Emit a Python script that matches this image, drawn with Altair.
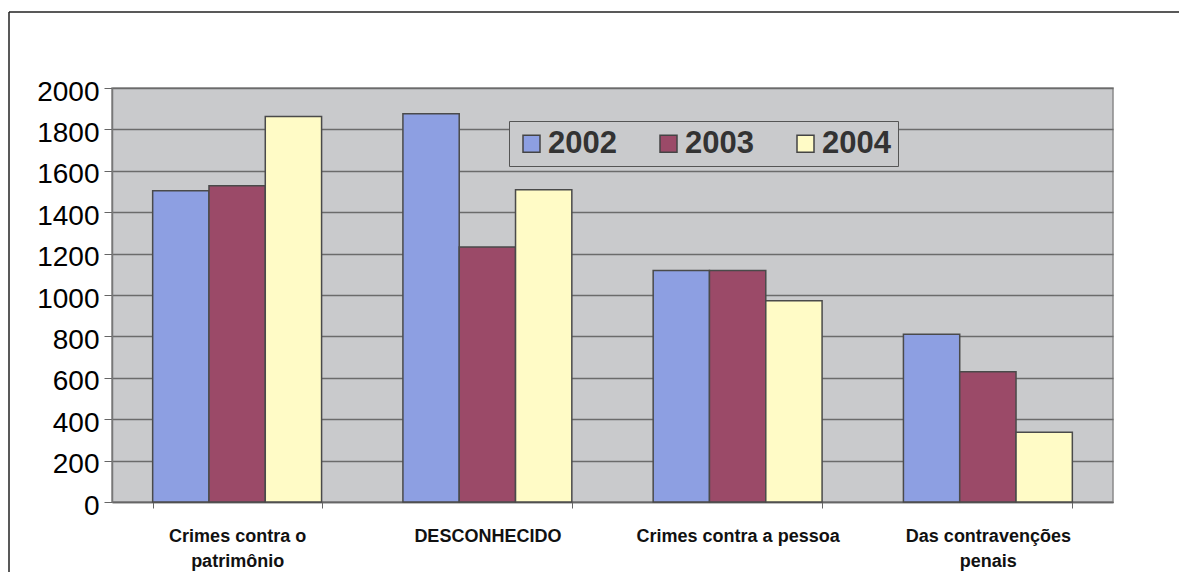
import altair as alt
import pandas as pd

categories = ["Crimes contra o|patrimônio", "DESCONHECIDO", "Crimes contra a pessoa", "Das contravenções|penais"]
years = ["2002", "2003", "2004"]
v2002 = [1504, 1876, 1118, 810]
v2003 = [1528, 1232, 1118, 629]
v2004 = [1862, 1508, 972, 337]
colors = ["#8d9fe2", "#9b4a68", "#fffbc6"]
y_ticks = [0, 200, 400, 600, 800, 1000, 1200, 1400, 1600, 1800, 2000]

rows = []
for yr, vals in zip(years, [v2002, v2003, v2004]):
    for c, v in zip(categories, vals):
        rows.append({"category": c, "year": yr, "value": v})
df = pd.DataFrame(rows)

W, H = 1001, 414
PL, PT = 104, 80

bars = alt.Chart(df).mark_bar(stroke="#4a4a4a", strokeWidth=1.5).encode(
    x=alt.X(
        "category:N",
        sort=categories,
        title=None,
        scale=alt.Scale(paddingInner=0.325, paddingOuter=0.1625),
        axis=alt.Axis(
            labelAngle=0,
            labelExpr="split(datum.label, '|')",
            labelFont="Liberation Sans",
            labelFontWeight="bold",
            labelFontSize=18,
            labelColor="#111",
            labelLineHeight=25,
            labelPadding=19,
            labelLimit=0,
            tickBand="extent",
            tickSize=6,
            tickColor="#666",
            domainColor="#666",
            domainWidth=1.5,
            grid=False,
        ),
    ),
    xOffset=alt.XOffset("year:N", sort=years, scale=alt.Scale(paddingInner=0, paddingOuter=0)),
    y=alt.Y(
        "value:Q",
        title=None,
        scale=alt.Scale(domain=[0, 2000], nice=False),
        axis=alt.Axis(
            values=y_ticks,
            format="d",
            labelFont="Liberation Sans",
            labelFontSize=28,
            labelColor="#000",
            labelPadding=5,
            labelOffset=4,
            tickSize=8,
            tickColor="#666",
            domainColor="#777",
            domainWidth=1.5,
            gridColor="#6b6b6b",
            gridWidth=1.5,
        ),
    ),
    color=alt.Color(
        "year:N",
        scale=alt.Scale(domain=years, range=colors),
        legend=alt.Legend(
            title=None,
            orient="none",
            legendX=397,
            legendY=33,
            direction="horizontal",
            columns=3,
            symbolType="square",
            symbolSize=289,
            symbolStrokeColor="#444",
            symbolStrokeWidth=1.5,
            labelFont="Liberation Sans",
            labelFontWeight="bold",
            labelFontSize=31,
            labelColor="#333",
            labelOffset=1,
            columnPadding=36,
            padding=7,
            strokeColor="#555",
            fillColor="#c9cacc",
        ),
    ),
)

frame_src = pd.DataFrame({"k": [0]})
left_line = alt.Chart(frame_src).mark_rule(color="#222", strokeWidth=1.5).encode(
    x=alt.value(-103), y=alt.value(-76), y2=alt.value(H + 100)
)
top_line = alt.Chart(frame_src).mark_rule(color="#222", strokeWidth=1.5).encode(
    x=alt.value(-103), x2=alt.value(W + 66), y=alt.value(-76)
)

chart = alt.layer(bars, left_line, top_line).properties(
    width=W,
    height=H,
    autosize=alt.AutoSizeParams(type="none"),
    padding={"left": PL, "top": PT, "right": 67, "bottom": 70},
    background="white",
).configure_view(
    fill="#c9cacc", stroke="#8a8a8a", strokeWidth=1.5
)

chart.save("out.html", embed_options={"renderer": "svg", "actions": False})
